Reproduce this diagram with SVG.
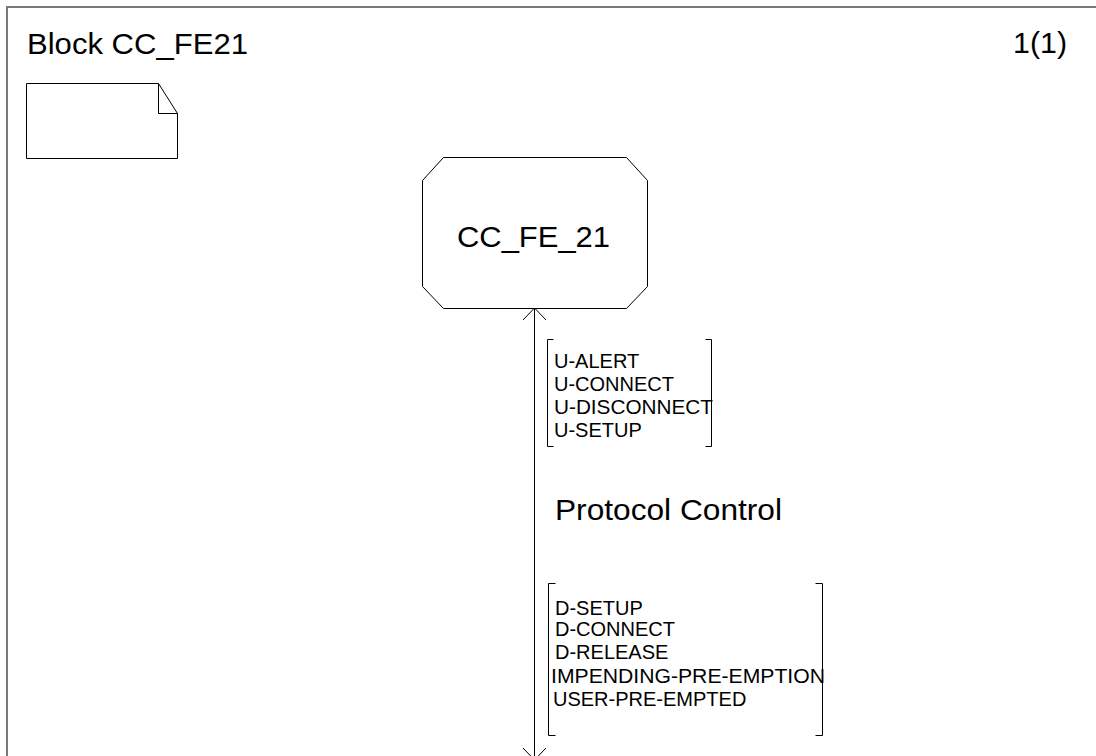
<svg xmlns="http://www.w3.org/2000/svg" width="1096" height="756" viewBox="0 0 1096 756">
<style>
.frame{fill:none;stroke:#7a7a7a;stroke-width:2}
.ln{fill:none;stroke:#000;stroke-width:1}
.big{font-family:"Liberation Sans",Arial,sans-serif;font-size:30px;fill:#000}
.sm{font-family:"Liberation Sans",Arial,sans-serif;font-size:20px;fill:#000}
</style>
<rect width="1096" height="756" fill="#fff"/>
<g id="frame">
<path class="frame" d="M7,757 L7,7 L1097,7"/>
<text class="big" x="27" y="54" textLength="221" lengthAdjust="spacingAndGlyphs">Block CC_FE21</text>
<text class="big" x="1013" y="53" textLength="54" lengthAdjust="spacingAndGlyphs">1(1)</text>
</g>
<g id="comment">
<path class="ln" d="M26.5,83.5 L158.5,83.5 L177.5,113.5 L177.5,158.5 L26.5,158.5 Z"/>
<path class="ln" d="M158.5,83.5 L158.5,113.5 L177.5,113.5"/>
</g>
<g id="CC_FE_21">
<path class="ln" d="M443.5,157.5 L626.5,157.5 L647.5,180.5 L647.5,286.5 L626.5,308.5 L443.5,308.5 L422.5,286.5 L422.5,180.5 Z"/>
<text class="big" x="457" y="247" textLength="153" lengthAdjust="spacingAndGlyphs">CC_FE_21</text>
</g>
<g id="connectors">
<path class="ln" d="M534.5,308 L534.5,760"/>
<path class="ln" d="M523,320 L534.5,308 L546,320"/>
<path class="ln" d="M523,748 L534.5,760 L546,748"/>
<text class="big" x="555" y="520" textLength="227" lengthAdjust="spacingAndGlyphs">Protocol Control</text>
<g id="signals-up">
<path class="ln" d="M553.5,339.5 L547.5,339.5 L547.5,446.5 L553.5,446.5"/>
<path class="ln" d="M705.5,339.5 L711.5,339.5 L711.5,446.5 L705.5,446.5"/>
<text class="sm" x="554" y="368">U-ALERT</text>
<text class="sm" x="554" y="391">U-CONNECT</text>
<text class="sm" x="554" y="414" textLength="159" lengthAdjust="spacingAndGlyphs">U-DISCONNECT</text>
<text class="sm" x="554" y="437">U-SETUP</text>
</g>
<g id="signals-down">
<path class="ln" d="M555.5,583.5 L548.5,583.5 L548.5,735.5 L555.5,735.5"/>
<path class="ln" d="M815.5,583.5 L822.5,583.5 L822.5,735.5 L815.5,735.5"/>
<text class="sm" x="555" y="615">D-SETUP</text>
<text class="sm" x="555" y="636">D-CONNECT</text>
<text class="sm" x="555" y="659">D-RELEASE</text>
<text class="sm" x="551" y="683" textLength="274" lengthAdjust="spacingAndGlyphs">IMPENDING-PRE-EMPTION</text>
<text class="sm" x="553" y="706">USER-PRE-EMPTED</text>
</g>
</g>
</svg>
